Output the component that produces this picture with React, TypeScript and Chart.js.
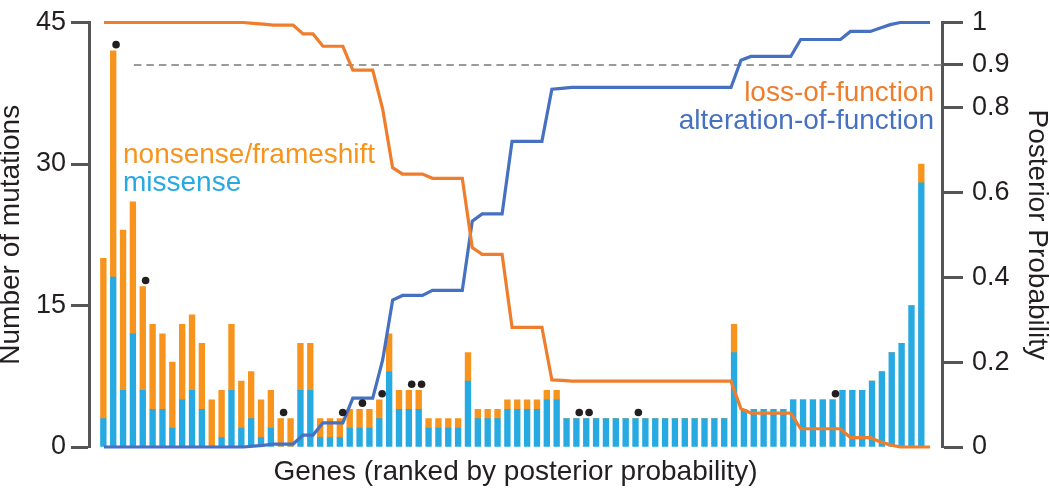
import React, { useEffect, useRef } from "react";
import { Chart, registerables } from "chart.js";

Chart.register(...registerables);

// ---- Data ----
const MISSENSE = [
  3, 18, 6, 12, 6, 4, 4, 2, 5, 6,
  4, 0, 1, 6, 2, 3, 1, 2, 0, 0,
  6, 6, 1, 1, 1, 2, 2, 2, 3, 8,
  4, 4, 4, 2, 2, 2, 2, 7, 3, 3,
  3, 4, 4, 4, 4, 5, 5, 3, 3, 3,
  3, 3, 3, 3, 3, 3, 3, 3, 3, 3,
  3, 3, 3, 3, 10, 4, 4, 4, 4, 4,
  5, 5, 5, 5, 5, 6, 6, 6, 7, 8,
  10, 11, 15, 28,
];

const NONSENSE = [
  17, 24, 17, 14, 11, 9, 8, 7, 8, 8,
  7, 5, 5, 7, 5, 5, 4, 4, 3, 3,
  5, 5, 2, 2, 2, 2, 2, 2, 2, 4,
  2, 2, 2, 1, 1, 1, 1, 3, 1, 1,
  1, 1, 1, 1, 1, 1, 1, 0, 0, 0,
  0, 0, 0, 0, 0, 0, 0, 0, 0, 0,
  0, 0, 0, 0, 3, 0, 0, 0, 0, 0,
  0, 0, 0, 0, 0, 0, 0, 0, 0, 0,
  0, 0, 0, 2,
];

const LOSS_OF_FUNCTION = [
  1, 1, 1, 1, 1, 1, 1, 1, 1, 1,
  1, 1, 1, 1, 1, 0.998, 0.996, 0.994, 0.994, 0.994,
  0.973, 0.973, 0.944, 0.944, 0.944, 0.888, 0.888, 0.888, 0.796, 0.658,
  0.643, 0.643, 0.643, 0.633, 0.633, 0.633, 0.633, 0.47, 0.454, 0.454,
  0.454, 0.282, 0.282, 0.282, 0.282, 0.158, 0.157, 0.155, 0.155, 0.155,
  0.155, 0.155, 0.155, 0.155, 0.155, 0.155, 0.155, 0.155, 0.155, 0.155,
  0.155, 0.155, 0.155, 0.155, 0.09, 0.08, 0.08, 0.08, 0.08, 0.08,
  0.043, 0.043, 0.043, 0.043, 0.043, 0.022, 0.022, 0.022, 0.012, 0.005,
  0, 0, 0, 0,
];

const ALTERATION_OF_FUNCTION = [
  0, 0, 0, 0, 0, 0, 0, 0, 0, 0,
  0, 0, 0, 0, 0, 0.002, 0.004, 0.007, 0.007, 0.007,
  0.028, 0.028, 0.057, 0.057, 0.057, 0.115, 0.115, 0.115, 0.205, 0.346,
  0.357, 0.357, 0.357, 0.369, 0.369, 0.369, 0.369, 0.532, 0.549, 0.549,
  0.549, 0.72, 0.72, 0.72, 0.72, 0.843, 0.845, 0.847, 0.847, 0.847,
  0.847, 0.847, 0.847, 0.847, 0.847, 0.847, 0.847, 0.847, 0.847, 0.847,
  0.847, 0.847, 0.847, 0.847, 0.911, 0.92, 0.92, 0.92, 0.92, 0.92,
  0.96, 0.96, 0.96, 0.96, 0.96, 0.979, 0.979, 0.979, 0.987, 0.995,
  1, 1, 1, 1,
];

// gene ranks (1-based) marked with a black dot above the bar
const DOT_GENES = [2, 5, 19, 25, 27, 29, 32, 33, 49, 50, 55, 75];

const LEFT_TICKS = [0, 15, 30, 45];
const RIGHT_TICKS = [0, 0.2, 0.4, 0.6, 0.8, 0.9, 1];
const THRESHOLD = 0.9;

// ---- Styles ----
const BAR_ORANGE = "#F7941D";
const BAR_BLUE = "#27AAE1";
const LINE_ORANGE = "#EF7D2C";
const LINE_BLUE = "#4670C0";
const AXIS_GRAY = "#555555";
const TEXT = "#231F20";
const FONT = '"Liberation Sans", Arial, Helvetica, sans-serif';

const X_BAR_MIN = -0.745;
const X_BAR_MAX = 85.81;
const X_LINE_MIN = -0.507;
const X_LINE_MAX = 85.2;
const DOT_OFFSET = 0.65;

const annotationPlugin = {
  id: "textAnnotations",
  afterDatasetsDraw(chart: any) {
    const { ctx, chartArea } = chart;
    ctx.save();
    ctx.font = `28px ${FONT}`;
    ctx.textBaseline = "alphabetic";
    ctx.textAlign = "left";
    ctx.fillStyle = BAR_ORANGE;
    ctx.fillText("nonsense/frameshift", chartArea.left + 34, chartArea.top + 140);
    ctx.fillStyle = BAR_BLUE;
    ctx.fillText("missense", chartArea.left + 34, chartArea.top + 168);
    ctx.textAlign = "right";
    ctx.fillStyle = LINE_ORANGE;
    ctx.fillText("loss-of-function", chartArea.right - 8, chartArea.top + 78);
    ctx.fillStyle = LINE_BLUE;
    ctx.fillText("alteration-of-function", chartArea.right - 8, chartArea.top + 106.5);
    ctx.restore();
  },
};

export default function App() {
  const canvasRef = useRef<HTMLCanvasElement | null>(null);

  useEffect(() => {
    if (!canvasRef.current) return;
    Chart.defaults.font.family = FONT;

    const totals = MISSENSE.map((m, i) => m + NONSENSE[i]);

    const chart = new Chart(canvasRef.current, {
      type: "bar",
      data: {
        datasets: [
          {
            type: "scatter",
            label: "significant",
            data: DOT_GENES.map((g) => ({ x: g, y: totals[g - 1] + DOT_OFFSET })),
            xAxisID: "x",
            yAxisID: "y",
            stack: "dots",
            pointRadius: 3.8,
            pointHoverRadius: 3.8,
            backgroundColor: TEXT,
            borderWidth: 0,
            order: 0,
          } as any,
          {
            type: "line",
            label: "loss-of-function",
            data: LOSS_OF_FUNCTION.map((v, i) => ({ x: i + 1, y: v })),
            xAxisID: "xl",
            yAxisID: "y2",
            borderColor: LINE_ORANGE,
            borderWidth: 3.2,
            pointRadius: 0,
            tension: 0,
            clip: false,
            order: 1,
          } as any,
          {
            type: "line",
            label: "alteration-of-function",
            data: ALTERATION_OF_FUNCTION.map((v, i) => ({ x: i + 1, y: v })),
            xAxisID: "xl",
            yAxisID: "y2",
            borderColor: LINE_BLUE,
            borderWidth: 3.2,
            pointRadius: 0,
            tension: 0,
            clip: false,
            order: 1,
          } as any,
          {
            type: "line",
            label: "threshold",
            data: [
              { x: 4, y: THRESHOLD },
              { x: X_LINE_MAX, y: THRESHOLD },
            ],
            xAxisID: "xl",
            yAxisID: "y2",
            borderColor: "#9a9a9a",
            borderWidth: 2,
            borderDash: [7.5, 5],
            pointRadius: 0,
            clip: false,
            order: 3,
          } as any,
          {
            type: "bar",
            label: "missense",
            data: MISSENSE.map((v, i) => ({ x: i + 1, y: v })),
            xAxisID: "x",
            yAxisID: "y",
            stack: "genes",
            backgroundColor: BAR_BLUE,
            borderWidth: 0,
            barThickness: 5.7,
            order: 2,
          } as any,
          {
            type: "bar",
            label: "nonsense/frameshift",
            data: NONSENSE.map((v, i) => ({ x: i + 1, y: v })),
            xAxisID: "x",
            yAxisID: "y",
            stack: "genes",
            backgroundColor: BAR_ORANGE,
            borderWidth: 0,
            barThickness: 5.7,
            order: 2,
          } as any,
        ],
      },
      options: {
        animation: false,
        responsive: false,
        devicePixelRatio: 1,
        layout: { padding: { top: 15, left: 0, right: 0, bottom: 0 } },
        plugins: {
          legend: { display: false },
          tooltip: { enabled: false },
        },
        scales: {
          x: {
            type: "linear",
            position: "bottom",
            min: X_BAR_MIN,
            max: X_BAR_MAX,
            offset: false,
            grid: { display: false },
            border: { display: false },
            ticks: { display: false },
            title: {
              display: true,
              text: "Genes (ranked by posterior probability)",
              color: TEXT,
              font: { size: 28, lineHeight: 0.8 },
              padding: { top: 0, bottom: 6.8 },
            },
            afterFit: (scale: any) => {
              scale.height = 43;
            },
          },
          xl: {
            type: "linear",
            display: false,
            min: X_LINE_MIN,
            max: X_LINE_MAX,
            offset: false,
          },
          y: {
            type: "linear",
            position: "left",
            stacked: true,
            min: 0,
            max: 45,
            afterBuildTicks: (axis: any) => {
              axis.ticks = LEFT_TICKS.map((v) => ({ value: v }));
            },
            grid: {
              display: true,
              drawOnChartArea: false,
              drawTicks: true,
              tickLength: 18,
              tickWidth: 3,
              tickColor: AXIS_GRAY,
              color: AXIS_GRAY,
            },
            border: { display: true, color: AXIS_GRAY, width: 3 },
            ticks: {
              color: TEXT,
              padding: 5,
              font: { size: 27, lineHeight: 1 },
              callback: (v: any) => String(v),
            },
            title: {
              display: true,
              text: "Number of mutations",
              color: TEXT,
              font: { size: 28, lineHeight: 0.8 },
              padding: { top: 0, bottom: 0 },
            },
            afterFit: (scale: any) => {
              scale.width = 89;
            },
          },
          y2: {
            type: "linear",
            position: "right",
            min: 0,
            max: 1,
            afterBuildTicks: (axis: any) => {
              axis.ticks = RIGHT_TICKS.map((v) => ({ value: v }));
            },
            grid: {
              display: true,
              drawOnChartArea: false,
              drawTicks: true,
              tickLength: 21,
              tickWidth: 3,
              tickColor: AXIS_GRAY,
              color: AXIS_GRAY,
            },
            border: { display: true, color: AXIS_GRAY, width: 3 },
            ticks: {
              color: TEXT,
              padding: 9,
              font: { size: 27, lineHeight: 1 },
              callback: (v: any) => String(v),
            },
            title: {
              display: true,
              text: "Posterior Probability",
              color: TEXT,
              font: { size: 28, lineHeight: 0.8 },
              padding: { top: 2, bottom: 0 },
            },
            afterFit: (scale: any) => {
              scale.width = 108;
            },
          },
        },
      } as any,
      plugins: [annotationPlugin],
    });

    return () => {
      chart.destroy();
    };
  }, []);

  return (
    <div style={{ position: "absolute", left: 0, top: 0, width: 1050, height: 490, background: "#ffffff" }}>
      <canvas ref={canvasRef} width={1050} height={490} style={{ width: 1050, height: 490, display: "block" }} />
    </div>
  );
}
